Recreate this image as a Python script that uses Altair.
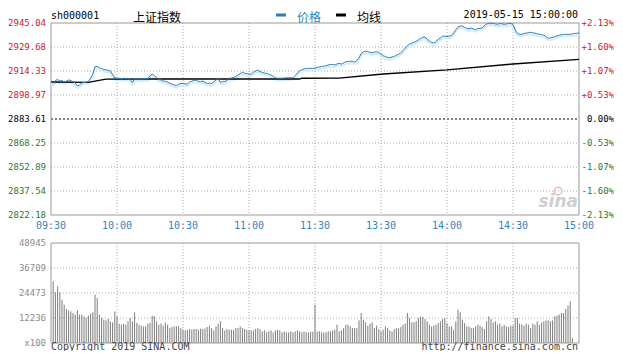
import altair as alt
import pandas as pd

# ---------------- data ----------------
price_minutes = list(range(241))
price_values = [
    2907.5, 2906.5, 2908.2, 2908.9, 2907.9, 2908.2, 2907.3, 2907.9, 2908.6, 2908.2,
    2907.5, 2906.6, 2904.7, 2905.4, 2906.6, 2907.1, 2907.1, 2907.6, 2909.8, 2912.4,
    2917.2, 2917.2, 2916.4, 2915.9, 2915.3, 2915.0, 2914.8, 2914.3, 2912.1, 2910.0,
    2909.7, 2909.7, 2909.2, 2909.7, 2909.5, 2909.7, 2908.9, 2907.0, 2909.2, 2909.2,
    2909.4, 2909.2, 2909.2, 2909.5, 2909.2, 2911.4, 2912.4, 2911.4, 2910.2, 2908.9,
    2908.6, 2907.9, 2907.7, 2907.3, 2906.4, 2906.0, 2905.4, 2905.0, 2905.8, 2906.3,
    2906.4, 2906.0, 2906.0, 2907.3, 2907.7, 2908.4, 2908.4, 2907.7, 2907.5, 2907.9,
    2907.0, 2906.4, 2906.4, 2906.4, 2907.3, 2908.6, 2910.0, 2907.1, 2907.4, 2907.6,
    2908.2, 2909.7, 2909.8, 2910.2, 2910.8, 2911.8, 2912.7, 2913.4, 2912.9, 2912.7,
    2912.3, 2912.4, 2913.5, 2914.3, 2914.8, 2914.0, 2913.4, 2913.0, 2912.8, 2912.4,
    2911.8, 2910.9, 2910.0, 2909.7, 2909.7, 2909.7, 2909.8, 2910.0, 2910.0, 2910.0,
    2910.0, 2911.4, 2913.0, 2914.6, 2915.1, 2915.6, 2916.0, 2916.0, 2916.0, 2916.0,
    2916.2, 2916.6, 2916.9, 2917.2, 2917.4, 2917.7, 2918.2, 2918.5, 2918.5, 2918.2,
    2918.8, 2919.2, 2918.7, 2919.5, 2920.3, 2920.3, 2920.6, 2920.4, 2920.0, 2921.1,
    2922.8, 2925.6, 2926.5, 2927.0, 2926.8, 2926.2, 2925.9, 2926.5, 2926.6, 2926.2,
    2925.2, 2924.1, 2923.6, 2923.0, 2922.8, 2923.3, 2923.7, 2924.4, 2925.0, 2926.0,
    2927.4, 2929.0, 2930.6, 2931.7, 2932.0, 2932.7, 2933.3, 2934.2, 2935.1, 2935.9,
    2936.1, 2934.6, 2933.5, 2932.6, 2932.2, 2933.3, 2934.5, 2935.4, 2936.6, 2936.6,
    2936.4, 2936.7, 2937.0, 2938.6, 2940.6, 2942.5, 2943.1, 2943.1, 2942.3, 2941.6,
    2941.3, 2941.9, 2941.2, 2940.8, 2941.5, 2941.6, 2941.8, 2943.4, 2944.4, 2944.8,
    2945.0, 2944.8, 2944.4, 2944.2, 2944.7, 2944.5, 2944.2, 2944.4, 2944.7, 2944.8,
    2944.1, 2940.6, 2938.3, 2937.8, 2937.8, 2938.3, 2938.5, 2938.9, 2939.1, 2938.8,
    2938.5, 2938.1, 2937.9, 2937.6, 2937.2, 2936.4, 2935.3, 2935.5, 2935.8, 2936.2,
    2936.8, 2937.2, 2937.5, 2937.7, 2937.8, 2937.8, 2937.8, 2938.1, 2938.4, 2938.5,
    2938.5,
]

avg_minutes = [0, 17, 20, 25, 45, 113, 114, 131, 151, 180, 210, 240]
avg_values = [2907.3, 2907.1, 2907.9, 2909.1, 2909.2, 2909.2, 2909.7, 2909.8, 2912.4, 2915.0, 2918.8, 2921.7]

vol_minutes = list(range(1, 238))
vol_values = [
    30180, 24780, 27720, 24780, 21200, 18750, 16640, 15970, 15480, 14680,
    13860, 15970, 13860, 13860, 13050, 12240, 13370, 14350, 14980, 23640,
    22020, 13860, 12240, 11420, 11080, 11750, 10590, 10090, 15480, 13050,
    9460, 8960, 9460, 8960, 10590, 12240, 10590, 14980, 9790, 8960,
    8470, 8140, 8140, 9460, 9790, 13370, 13050, 10590, 8960, 9460,
    8470, 10090, 8960, 7320, 7810, 8140, 8140, 8140, 7320, 6510,
    6180, 6510, 6830, 6510, 6830, 6830, 6510, 6830, 6830, 7150,
    7810, 8470, 7320, 6180, 8140, 9460, 10590, 7320, 6180, 6830,
    6510, 6510, 6510, 7320, 7320, 8140, 7320, 6830, 6510, 6180,
    6180, 6180, 6830, 7320, 6830, 5690, 6180, 5200, 5690, 6180,
    5200, 6180, 6510, 6180, 5200, 5690, 5200, 5200, 5690, 5200,
    5690, 6180, 5690, 5200, 5690, 5200, 5200, 5530, 5530, 18750,
    5700, 5700, 5200, 5200, 5200, 5700, 5700, 6200, 6500, 8960,
    5700, 6200, 7300, 8960, 8960, 8100, 7300, 7300, 7300, 11100,
    14700, 11400, 10100, 8500, 9500, 10100, 7300, 8500, 6800, 5700,
    6500, 8100, 7300, 6200, 5700, 6800, 7300, 7300, 7800, 8960,
    9500, 14700, 12200, 10100, 10100, 10600, 12200, 13000, 12700, 11700,
    10600, 8960, 8100, 8500, 8960, 9800, 10600, 11700, 12200, 9800,
    8100, 8100, 6500, 10600, 16300, 15000, 11400, 9800, 8100, 8100,
    7300, 7300, 8100, 8960, 8500, 7800, 6800, 10600, 13000, 11700,
    10100, 10600, 8960, 9500, 8100, 8960, 8100, 7800, 8500, 8500,
    12200, 12200, 9500, 8960, 8500, 9500, 8960, 7300, 9500, 8960,
    10600, 8960, 10100, 10600, 11100, 11100, 10600, 11100, 13000, 13400,
    13900, 14700, 14700, 16600, 18300, 20400, 2400,
]

price_ticks = [2945.04, 2929.68, 2914.33, 2898.97, 2883.61, 2868.25, 2852.89, 2837.54, 2822.18]
price_tick_labels = ["2945.04", "2929.68", "2914.33", "2898.97", "2883.61", "2868.25", "2852.89", "2837.54", "2822.18"]
pct_labels = ["+2.13%", "+1.60%", "+1.07%", "+0.53%", "0.00%", "-0.53%", "-1.07%", "-1.60%", "-2.13%"]
time_ticks = [0, 30, 60, 90, 120, 150, 180, 210, 240]
time_labels = ["09:30", "10:00", "10:30", "11:00", "11:30", "13:30", "14:00", "14:30", "15:00"]
vol_ticks = [48945, 36709, 24473, 12236, 0]
vol_tick_labels = ["48945", "36709", "24473", "12236", "x100"]

code_text = "sh000001"
name_text = "上证指数"
legend_labels = ["价格", "均线"]
stamp_text = "2019-05-15 15:00:00"
footer_left = "Copyright 2019 SINA.COM"
footer_right = "http://finance.sina.com.cn"
watermark_text = "sina"

# ---------------- style ----------------
W, H, PH = 528, 320, 192
PREV = price_ticks[4]
MONO = "DejaVu Sans Mono"
CJK = "Noto Sans CJK SC"
RED, GREEN, BLUE = "#c8202e", "#2b7a2b", "#2c87c0"
LINE_BLUE = "#2f7fb5"
GRID, BORDER = "#aaaaaa", "#999999"

xs = alt.Scale(domain=[0, 240], nice=False, zero=False)
py = alt.Scale(domain=[price_ticks[-1], price_ticks[0]], range=[PH, 0], nice=False, zero=False)
vy = alt.Scale(domain=[0, vol_ticks[0]], range=[H, 220], nice=False, zero=False)


def tone(v):
    if abs(v - PREV) < 1e-6:
        return "#000000"
    return RED if v > PREV else GREEN


price_df = pd.DataFrame({"m": price_minutes, "p": price_values})
avg_df = pd.DataFrame({"m": avg_minutes, "p": avg_values})
vol_df = pd.DataFrame({"m": vol_minutes, "v": vol_values})
pt = pd.DataFrame({"p": price_ticks, "label": price_tick_labels, "pct": pct_labels})
pt["color"] = [tone(v) for v in price_ticks]
pt["kind"] = ["border" if i in (0, len(price_ticks) - 1) else ("mid" if abs(v - PREV) < 1e-6 else "grid")
              for i, v in enumerate(price_ticks)]
tt = pd.DataFrame({"m": time_ticks, "label": time_labels})
tt["kind"] = ["border" if i in (0, len(time_ticks) - 1) else "grid" for i in range(len(time_ticks))]
vt = pd.DataFrame({"v": vol_ticks, "label": vol_tick_labels})
vt["kind"] = ["border" if i in (0, len(vol_ticks) - 1) else "grid" for i in range(len(vol_ticks))]

one = pd.DataFrame({"t": [""]})


def txt(s):
    return pd.DataFrame({"t": [s]})


X = alt.X("m:Q", scale=xs, axis=None)
layers = []

# horizontal grid, price panel
layers.append(alt.Chart(pt[pt.kind == "grid"]).mark_rule(color=GRID, strokeDash=[1, 2]).encode(
    y=alt.Y("p:Q", scale=py, axis=None), x=alt.value(0), x2=alt.value(W)))
layers.append(alt.Chart(pt[pt.kind == "mid"]).mark_rule(color="#000000", strokeDash=[2, 2]).encode(
    y=alt.Y("p:Q", scale=py, axis=None), x=alt.value(0), x2=alt.value(W)))
# volume horizontal grid
layers.append(alt.Chart(vt[vt.kind == "grid"]).mark_rule(color=GRID, strokeDash=[1, 2]).encode(
    y=alt.Y("v:Q", scale=vy, axis=None), x=alt.value(0), x2=alt.value(W)))
# vertical grid, both panels
layers.append(alt.Chart(tt[tt.kind == "grid"]).mark_rule(color=GRID, strokeDash=[1, 2]).encode(
    x=X, y=alt.YDatum(price_ticks[0], scale=py, axis=None), y2=alt.Y2Datum(price_ticks[-1])))
layers.append(alt.Chart(tt[tt.kind == "grid"]).mark_rule(color=GRID, strokeDash=[1, 2]).encode(
    x=X, y=alt.YDatum(vol_ticks[0], scale=vy, axis=None), y2=alt.Y2Datum(vol_ticks[-1])))

# volume bars
layers.append(alt.Chart(vol_df).mark_rule(color="#7d7d7d", strokeWidth=1).encode(
    x=X, y=alt.Y("v:Q", scale=vy, axis=None), y2=alt.Y2Datum(0)))

# borders
layers.append(alt.Chart(pt[pt.kind == "border"]).mark_rule(color=BORDER).encode(
    y=alt.Y("p:Q", scale=py, axis=None), x=alt.value(0), x2=alt.value(W)))
layers.append(alt.Chart(vt[vt.kind == "border"]).mark_rule(color=BORDER).encode(
    y=alt.Y("v:Q", scale=vy, axis=None), x=alt.value(0), x2=alt.value(W)))
layers.append(alt.Chart(tt[tt.kind == "border"]).mark_rule(color=BORDER).encode(
    x=X, y=alt.YDatum(price_ticks[0], scale=py, axis=None), y2=alt.Y2Datum(price_ticks[-1])))
layers.append(alt.Chart(tt[tt.kind == "border"]).mark_rule(color=BORDER).encode(
    x=X, y=alt.YDatum(vol_ticks[0], scale=vy, axis=None), y2=alt.Y2Datum(vol_ticks[-1])))

# watermark
layers.append(alt.Chart(txt(watermark_text)).mark_text(
    align="right", baseline="alphabetic", font="DejaVu Sans", fontSize=17, fontStyle="italic",
    fontWeight="bold", color="#cfcfcf").encode(text="t:N", x=alt.value(527), y=alt.value(184)))
layers.append(alt.Chart(one).mark_point(shape="circle", size=60, color="#e7a3a3", strokeWidth=1.5).encode(
    x=alt.value(507), y=alt.value(168)))

# price and average lines
layers.append(alt.Chart(price_df).mark_line(color="#d3ecf7", strokeWidth=2, yOffset=2).encode(
    x=X, y=alt.Y("p:Q", scale=py, axis=None)))
layers.append(alt.Chart(avg_df).mark_line(color="#000000", strokeWidth=1.3).encode(
    x=X, y=alt.Y("p:Q", scale=py, axis=None)))
layers.append(alt.Chart(price_df).mark_line(color=LINE_BLUE, strokeWidth=1).encode(
    x=X, y=alt.Y("p:Q", scale=py, axis=None)))

# tick labels
layers.append(alt.Chart(pt).mark_text(align="right", baseline="middle", font=MONO, fontSize=9).encode(
    y=alt.Y("p:Q", scale=py, axis=None), x=alt.value(-5), text="label:N",
    color=alt.Color("color:N", scale=None)))
layers.append(alt.Chart(pt).mark_text(align="right", baseline="middle", font=MONO, fontSize=9).encode(
    y=alt.Y("p:Q", scale=py, axis=None), x=alt.value(563), text="pct:N",
    color=alt.Color("color:N", scale=None)))
layers.append(alt.Chart(tt).mark_text(align="center", baseline="middle", font=MONO, fontSize=10,
                                      color=BLUE).encode(x=X, y=alt.value(203), text="label:N"))
layers.append(alt.Chart(vt).mark_text(align="right", baseline="middle", font=MONO, fontSize=9,
                                      color="#8c8c8c").encode(
    y=alt.Y("v:Q", scale=vy, axis=None), x=alt.value(-5), text="label:N"))

# header
layers.append(alt.Chart(txt(code_text)).mark_text(align="left", baseline="middle", font=MONO, fontSize=10,
                                                  color="#000000").encode(
    text="t:N", x=alt.value(0), y=alt.value(-7)))
layers.append(alt.Chart(txt(name_text)).mark_text(align="left", baseline="alphabetic", font=CJK, fontSize=12,
                                                  color="#000000").encode(
    text="t:N", x=alt.value(82), y=alt.value(-1)))
layers.append(alt.Chart(one).mark_rule(color=LINE_BLUE, strokeWidth=3).encode(
    x=alt.value(225), x2=alt.value(235), y=alt.value(-8)))
layers.append(alt.Chart(txt(legend_labels[0])).mark_text(align="left", baseline="alphabetic", font=CJK,
                                                         fontSize=12, color=BLUE).encode(
    text="t:N", x=alt.value(246), y=alt.value(-1)))
layers.append(alt.Chart(one).mark_rule(color="#000000", strokeWidth=3).encode(
    x=alt.value(285), x2=alt.value(295), y=alt.value(-8)))
layers.append(alt.Chart(txt(legend_labels[1])).mark_text(align="left", baseline="alphabetic", font=CJK,
                                                         fontSize=12, color="#000000").encode(
    text="t:N", x=alt.value(306), y=alt.value(-1)))
layers.append(alt.Chart(txt(stamp_text)).mark_text(align="right", baseline="middle", font=MONO, fontSize=10,
                                                   color="#000000").encode(
    text="t:N", x=alt.value(527), y=alt.value(-8)))

# footer
layers.append(alt.Chart(txt(footer_left)).mark_text(align="left", baseline="alphabetic", font=MONO,
                                                    fontSize=10, color="#444444").encode(
    text="t:N", x=alt.value(0), y=alt.value(327)))
layers.append(alt.Chart(txt(footer_right)).mark_text(align="right", baseline="alphabetic", font=MONO,
                                                     fontSize=10, color="#444444").encode(
    text="t:N", x=alt.value(527), y=alt.value(327)))

chart = alt.layer(*layers).resolve_scale(y="independent").properties(
    width=W, height=H,
    padding={"left": 43, "top": 15, "right": 36, "bottom": 8},
    autosize=alt.AutoSizeParams(type="none"),
    background="#ffffff",
).configure_view(stroke=None)

chart.save("out.html", embed_options={"renderer": "svg", "actions": False})
